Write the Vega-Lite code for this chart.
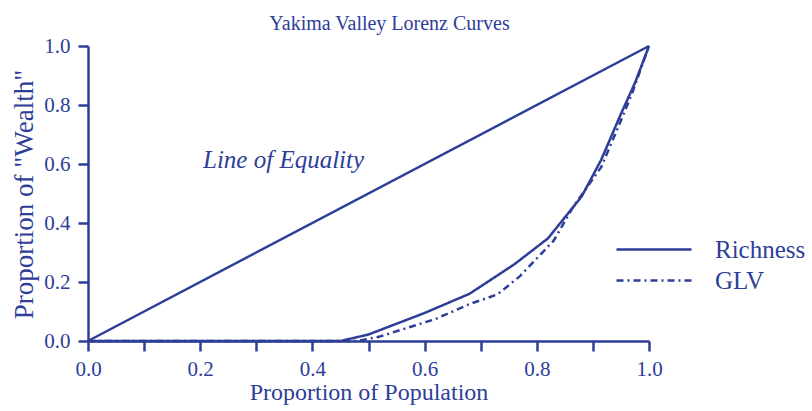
{
  "$schema": "https://vega.github.io/schema/vega-lite/v6.json",
  "width": 561,
  "height": 295,
  "autosize": {"type": "none"},
  "padding": {"left": 88, "top": 46, "right": 163, "bottom": 70},
  "background": "white",
  "title": {
    "text": "Yakima Valley Lorenz Curves",
    "font": "Liberation Serif",
    "fontSize": 20,
    "fontWeight": "normal",
    "color": "#2e3d97",
    "anchor": "middle",
    "dx": 21,
    "offset": 1
  },
  "config": {
    "view": {"stroke": null},
    "axis": {
      "labelFont": "Liberation Serif",
      "titleFont": "Liberation Serif",
      "labelColor": "#2e3d97",
      "titleColor": "#2e3d97",
      "domainColor": "#2e3d97",
      "domainWidth": 2.5,
      "grid": false,
      "labelFontSize": 21,
      "titleFontSize": 24,
      "titleFontWeight": "normal",
      "labelFlush": false,
      "labelOverlap": false
    },
    "legend": {
      "labelFont": "Liberation Serif",
      "labelFontSize": 25,
      "labelColor": "#2e3d97"
    }
  },
  "datasets": {
    "curves": [
      {"series": "Equality", "x": 0, "y": 0},
      {"series": "Equality", "x": 1, "y": 1},
      {"series": "Richness", "x": 0, "y": 0},
      {"series": "Richness", "x": 0.45, "y": 0},
      {"series": "Richness", "x": 0.5, "y": 0.022},
      {"series": "Richness", "x": 0.6, "y": 0.095},
      {"series": "Richness", "x": 0.68, "y": 0.16},
      {"series": "Richness", "x": 0.76, "y": 0.26},
      {"series": "Richness", "x": 0.82, "y": 0.348},
      {"series": "Richness", "x": 0.88, "y": 0.49},
      {"series": "Richness", "x": 0.915, "y": 0.615},
      {"series": "Richness", "x": 0.95, "y": 0.77},
      {"series": "Richness", "x": 0.975, "y": 0.875},
      {"series": "Richness", "x": 1, "y": 1},
      {"series": "GLV", "x": 0, "y": 0},
      {"series": "GLV", "x": 0.48, "y": 0},
      {"series": "GLV", "x": 0.52, "y": 0.015},
      {"series": "GLV", "x": 0.62, "y": 0.075},
      {"series": "GLV", "x": 0.68, "y": 0.125},
      {"series": "GLV", "x": 0.73, "y": 0.158},
      {"series": "GLV", "x": 0.77, "y": 0.22},
      {"series": "GLV", "x": 0.8, "y": 0.28},
      {"series": "GLV", "x": 0.83, "y": 0.34},
      {"series": "GLV", "x": 0.865, "y": 0.455},
      {"series": "GLV", "x": 0.915, "y": 0.59},
      {"series": "GLV", "x": 0.945, "y": 0.725},
      {"series": "GLV", "x": 0.97, "y": 0.84},
      {"series": "GLV", "x": 1, "y": 1}
    ],
    "note": [{"x": 0.205, "y": 0.614, "label": "Line of Equality"}]
  },
  "layer": [
    {
      "data": {"name": "curves"},
      "transform": [{"filter": "datum.series === 'Equality'"}],
      "mark": {"type": "line", "color": "#2e3d97", "strokeWidth": 2.5},
      "encoding": {
        "x": {
          "field": "x", "type": "quantitative",
          "scale": {"domain": [0, 1], "nice": false},
          "axis": {
            "title": "Proportion of Population",
            "values": [0, 0.1, 0.2, 0.3, 0.4, 0.5, 0.6, 0.7, 0.8, 0.9, 1.0],
            "labelExpr": "round(datum.value*10)%2==0 ? format(datum.value,'.1f') : ''",
            "ticks": true,
            "tickColor": "#2e3d97",
            "tickOpacity": 1,
            "tickWidth": 2.5,
            "tickSize": 10,
            "labelPadding": 7,
            "titlePadding": 1
          }
        },
        "y": {
          "field": "y", "type": "quantitative",
          "scale": {"domain": [0, 1], "nice": false},
          "axis": {
            "title": "Proportion of \"Wealth\"",
            "titleFontSize": 27,
            "values": [0, 0.1, 0.2, 0.3, 0.4, 0.5, 0.6, 0.7, 0.8, 0.9, 1.0],
            "labelExpr": "round(datum.value*10)%2==0 ? format(datum.value,'.1f') : ''",
            "ticks": true,
            "tickColor": "#2e3d97",
            "tickOpacity": 1,
            "tickWidth": 2.5,
            "tickSize": 10,
            "labelPadding": 8,
            "titleX": -64,
            "titleY": 148,
            "titleAngle": -90,
            "titleAlign": "center",
            "titleBaseline": "middle"
          }
        },
        "order": {"field": "x"}
      }
    },
    {
      "data": {"name": "curves"},
      "transform": [{"filter": "datum.series !== 'Equality'"}],
      "mark": {"type": "line", "color": "#2e3d97", "strokeWidth": 2.5},
      "encoding": {
        "x": {"field": "x", "type": "quantitative"},
        "y": {"field": "y", "type": "quantitative"},
        "order": {"field": "x"},
        "strokeDash": {
          "field": "series", "type": "nominal",
          "scale": {"domain": ["Richness", "GLV"], "range": [[1, 0], [7, 4, 2, 4]]},
          "legend": {
            "title": null,
            "orient": "none",
            "legendX": 527,
            "legendY": 188,
            "symbolType": "stroke",
            "symbolSize": 5625,
            "symbolStrokeColor": "#2e3d97",
            "symbolStrokeWidth": 2.5,
            "labelOffset": 22,
            "rowPadding": 0,
            "clipHeight": 31
          }
        }
      }
    },
    {
      "data": {"name": "note"},
      "mark": {
        "type": "text",
        "font": "Liberation Serif",
        "fontStyle": "italic",
        "fontSize": 25,
        "color": "#2e3d97",
        "align": "left",
        "baseline": "middle"
      },
      "encoding": {
        "x": {"field": "x", "type": "quantitative"},
        "y": {"field": "y", "type": "quantitative"},
        "text": {"field": "label"}
      }
    }
  ]
}
